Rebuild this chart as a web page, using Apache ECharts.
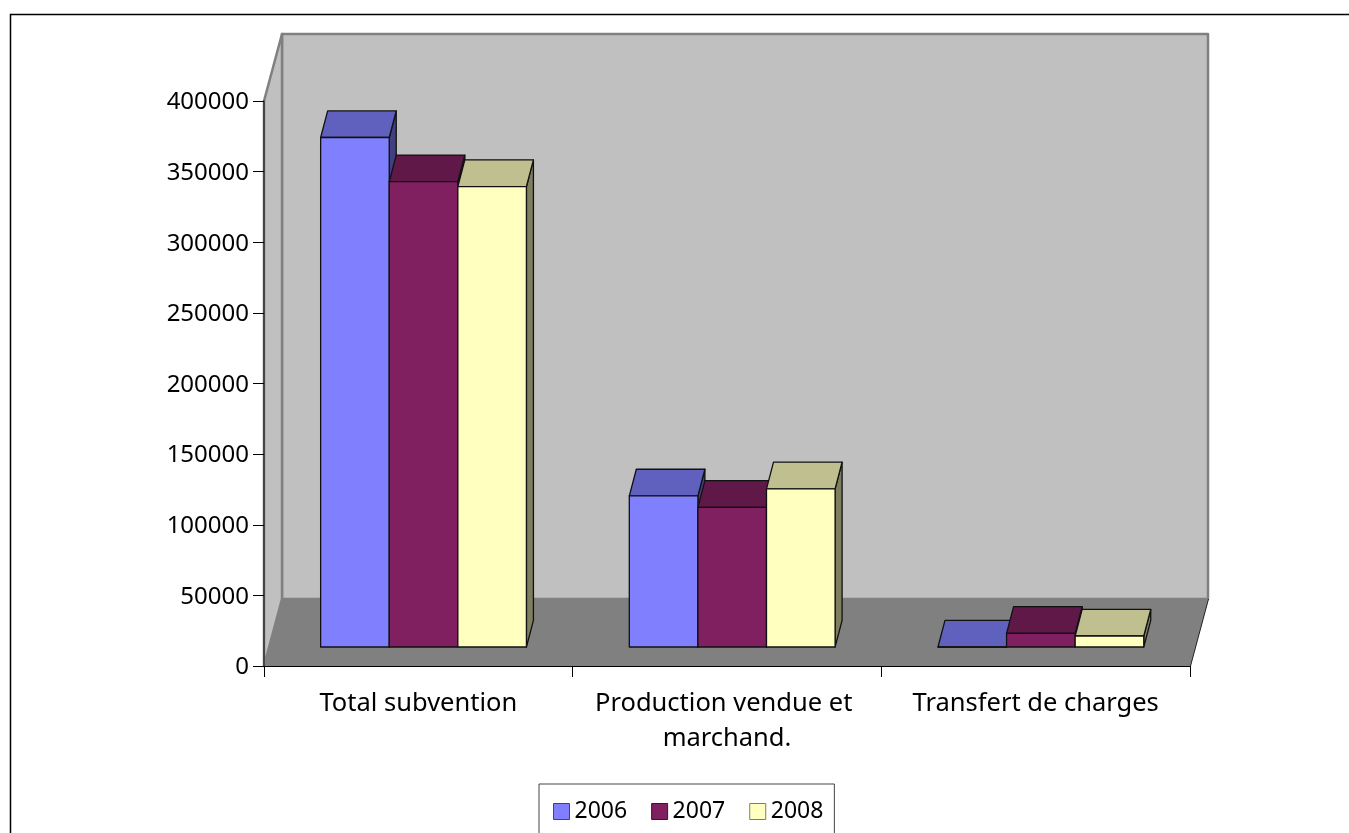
<!DOCTYPE html>
<html>
<head>
<meta charset="utf-8">
<style>html,body{margin:0;padding:0;background:#fff;overflow:hidden}#chart{width:1349px;height:833px}</style>
<script src="https://cdn.jsdelivr.net/npm/echarts@6/dist/echarts.min.js"></script>
</head>
<body>
<div id="chart"></div>
<script>
// Income by source, 2006-2008
const categories = ['Total subvention', 'Production vendue et marchand.', 'Transfert de charges'];
const years = ['2006', '2007', '2008'];
const values2006 = [360700, 107000, 0];
const values2007 = [329400, 98900, 9700];
const values2008 = [326000, 112000, 7800];
const yTicks = { min: 0, max: 400000, interval: 50000 };

// front, top and side shades for each year
const shades = [
  { front: '#8080ff', top: '#6060bf', side: '#40407f' },
  { front: '#802060', top: '#601848', side: '#401030' },
  { front: '#ffffc0', top: '#bfbf90', side: '#7f7f60' }
];
const FONT = '"Noto Sans"';
const WALL_DX = 18, WALL_DY = 67;   // depth of the box
const BAR_DX = 5.2, BAR_DY = 19;    // front of the bars inside the box
const TOP_DX = 7, TOP_DY = 26.6;    // depth of a bar
const BAR_SHARE = 1 / 4.5;          // bar width as a share of the category band

function poly(points, fill, stroke, lineWidth) {
  return {
    type: 'polygon',
    shape: { points },
    style: { fill, stroke: stroke || '#111', lineWidth: lineWidth || 1.3, lineJoin: 'round' }
  };
}

function renderBox(params) {
  const c = params.coordSys;
  const l = c.x, r = c.x + c.width, t = c.y, b = c.y + c.height;
  const D = WALL_DX, E = WALL_DY;
  return {
    type: 'group',
    children: [
      poly([[l + D, t - E], [r + D, t - E], [r + D, b - E], [l + D, b - E]], '#c0c0c0', '#808080', 2.5),
      poly([[l, t], [l + D, t - E], [l + D, b - E], [l, b]], '#c0c0c0', '#808080', 2.5),
      poly([[l, b], [l + D, b - E], [r + D, b - E], [r, b]], '#808080', '#808080', 1),
      { type: 'line', shape: { x1: r + 0.5, y1: b, x2: r + D + 0.5, y2: b - E }, style: { stroke: '#222', lineWidth: 1 } }
    ]
  };
}

function barRenderer(seriesIndex) {
  return function (params, api) {
    const s = shades[seriesIndex];
    const base = api.coord([api.value(0), 0]);
    const tip = api.coord([api.value(0), api.value(1)]);
    const band = api.size([1, 0])[0];
    const w = band * BAR_SHARE;
    const x0 = base[0] - 1.5 * w + seriesIndex * w + BAR_DX;
    const x1 = x0 + w;
    const yb = base[1] - BAR_DY;
    const yt = tip[1] - BAR_DY;
    return {
      type: 'group',
      children: [
        poly([[x1, yb], [x1 + TOP_DX, yb - TOP_DY], [x1 + TOP_DX, yt - TOP_DY], [x1, yt]], s.side),
        poly([[x0, yt], [x0 + TOP_DX, yt - TOP_DY], [x1 + TOP_DX, yt - TOP_DY], [x1, yt]], s.top),
        poly([[x0, yb], [x1, yb], [x1, yt], [x0, yt]], s.front)
      ]
    };
  };
}

const yearValues = [values2006, values2007, values2008];
const barSeries = years.map((year, i) => ({
  type: 'custom',
  name: year,
  z: 3 + i,
  clip: false,
  itemStyle: { color: shades[i].front },
  encode: { x: 0, y: 1 },
  renderItem: barRenderer(i),
  data: categories.map((c, k) => [k, yearValues[i][k]])
}));

const chart = echarts.init(document.getElementById('chart'), null, { renderer: 'canvas' });
chart.setOption({
  animation: false,
  backgroundColor: '#fff',
  textStyle: { fontFamily: FONT },
  grid: { left: 264, right: 159, top: 101, bottom: 167, containLabel: false },
  legend: {
    left: 539, top: 784,
    data: years.map((y, i) => ({
      name: y,
      icon: 'rect',
      itemStyle: { color: shades[i].front, borderColor: shades[i].side, borderWidth: 1 }
    })),
    itemWidth: 16, itemHeight: 16, itemGap: 24,
    padding: [16, 11, 40, 14],
    borderColor: '#444', borderWidth: 1,
    textStyle: { fontFamily: FONT, fontSize: 23, color: '#000' }
  },
  xAxis: {
    type: 'category',
    data: categories,
    z: 10,
    axisLine: { lineStyle: { color: '#000', width: 1 } },
    axisTick: { show: true, alignWithLabel: false, length: 11, lineStyle: { color: '#000' } },
    axisLabel: {
      color: '#000', fontFamily: FONT, fontSize: 25.5, margin: 20, lineHeight: 35,
      width: 300, overflow: 'break', interval: 0
    }
  },
  yAxis: {
    type: 'value',
    min: yTicks.min, max: yTicks.max, interval: yTicks.interval,
    z: 10,
    axisLine: { show: true, lineStyle: { color: '#333', width: 1.5 } },
    axisTick: { show: true, length: 11, lineStyle: { color: '#000' } },
    splitLine: { show: false },
    axisLabel: {
      margin: 15,
      formatter: v => '{tick|' + v + '}',
      rich: {
        tick: { color: '#000', fontFamily: FONT, fontSize: 24, padding: [3, 0, 0, 0] }
      }
    }
  },
  graphic: [
    {
      type: 'rect', silent: true, z: 0,
      shape: { x: 10.5, y: 14.5, width: 1500, height: 1000 },
      style: { fill: 'none', stroke: '#000', lineWidth: 1.5 }
    }
  ],
  series: [
    {
      type: 'custom', name: 'box', z: 1, silent: true, clip: false,
      renderItem: renderBox,
      data: [[0, 0]],
      encode: { x: 0, y: 1 }
    }
  ].concat(barSeries)
});
</script>
</body>
</html>
